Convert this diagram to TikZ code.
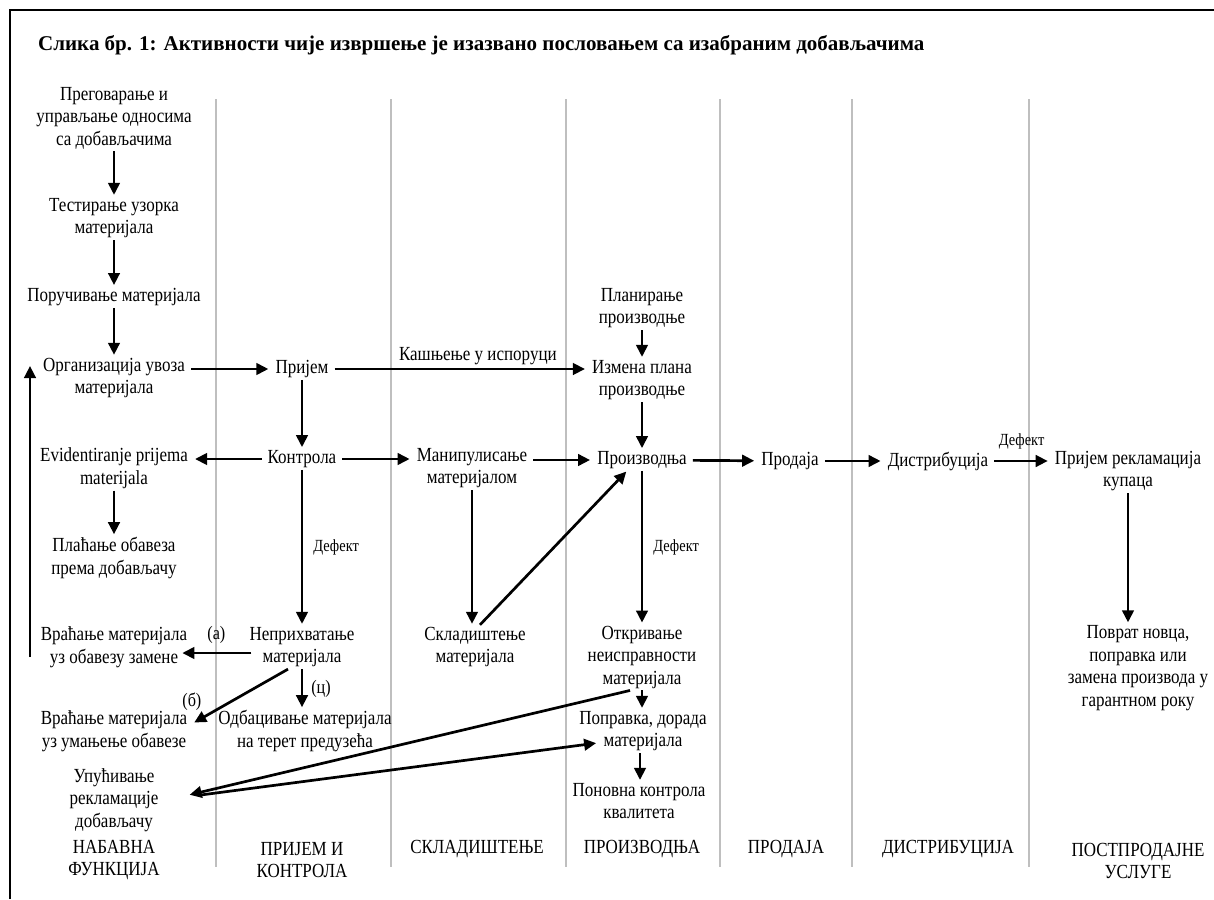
\documentclass[tikz,border=0pt]{standalone}
\usepackage{fontspec}
\setmainfont{Liberation Serif}[FakeStretch=0.85]
\newfontfamily\titlefont{Liberation Serif}
\usetikzlibrary{arrows.meta,calc}

\begin{document}
\begin{tikzpicture}[x=1pt,y=-1pt,>={Triangle[length=12pt,width=11.5pt]},
		every node/.style={font=\fontsize{20}{22.5}\selectfont},
		act/.style={align=center,inner xsep=6pt,inner ysep=2pt},
		lane/.style={draw=black!25,line width=1.6pt},
		flow/.style={->,line width=2.7pt,shorten >=1pt},
		tag/.style={font=\fontsize{17}{19}\selectfont,inner sep=2pt},
		branch/.style={font=\fontsize{19}{21}\selectfont,inner sep=2pt},
		]
		\useasboundingbox (0,0) rectangle (1214,899);
		
		% Frame and lanes
		\draw[line width=1.8pt] (10,899) -- (10,10) -- (1214,10);
		\foreach \x in {216,391,566,720,852,1029}
		\draw[lane] (\x,99) -- (\x,867);
		
		\node[anchor=west,inner sep=0pt,font=\titlefont\bfseries\fontsize{21}{24}\selectfont] (title) at (38,45)
		{Слика бр. 1: Активности чије извршење је изазвано пословањем са изабраним добављачима};
		
		% Nabavna funkcija
		\node[act] (pre) at (114,118) {Преговарање и\\управљање односима\\са добављачима};
		\node[act] (test) at (114,218) {Тестирање узорка\\материјала};
		\node[act] (por) at (114,297) {Поручивање материјала};
		\node[act] (org) at (114,378) {Организација увоза\\материјала};
		\node[act] (evid) at (114,468) {Evidentiranje prijema\\materijala};
		\node[act] (plac) at (114,558) {Плаћање обавеза\\према добављачу};
		\node[act] (vr1) at (114,647) {Враћање материјала\\уз обавезу замене};
		\node[act] (vr2) at (114,731) {Враћање материјала\\уз умањење обавезе};
		\node[act] (upu) at (114,800) {Упућивање\\рекламације\\добављачу};
		
		% Prijem i kontrola
		\node[act] (pri) at (302,369) {Пријем};
		\node[act] (kon) at (302,459) {Контрола};
		\node[act] (nep) at (302,647) {Неприхватање\\материјала};
		\node[act] (odb) at (305,731) {Одбацивање материјала\\на терет предузећа};
		
		% Skladistenje
		\node[act] (man) at (472,468) {Манипулисање\\материјалом};
		\node[act] (skl) at (475,647) {Складиштење\\материјала};
		
		% Proizvodnja
		\node[act] (plan) at (642,308) {Планирање\\производње};
		\node[act] (izm) at (642,380) {Измена плана\\производње};
		\node[act] (pro) at (642,460) {Производња};
		\node[act] (otk) at (642,657) {Откривање\\неисправности\\материјала};
		\node[act] (pop) at (643,731) {Поправка, дорада\\материјала};
		\node[act] (pon) at (639,801) {Поновна контрола\\квалитета};
		
		% Prodaja, distribucija, postprodajne usluge
		\node[act] (prod) at (790,461) {Продаја};
		\node[act] (dis) at (938,461) {Дистрибуција};
		\node[act] (rek) at (1128,471) {Пријем рекламација\\купаца};
		\node[act] (pov) at (1138,668) {Поврат новца,\\поправка или\\замена производа у\\гарантном року};
		
		% Lane titles
		\node[act] (l1) at (114,860) {НАБАВНА\\ФУНКЦИЈА};
		\node[act] (l2) at (302,860) {ПРИЈЕМ И\\КОНТРОЛА};
		\node[act] (l3) at (477,849) {СКЛАДИШТЕЊЕ};
		\node[act] (l4) at (642,849) {ПРОИЗВОДЊА};
		\node[act] (l5) at (786,849) {ПРОДАЈА};
		\node[act] (l6) at (948,849) {ДИСТРИБУЦИЈА};
		\node[act] (l7) at (1138,861) {ПОСТПРОДАЈНЕ\\УСЛУГЕ};
		
		% Return
		\coordinate (retA) at (30,657);
		\coordinate (retB) at (30,365);
		\draw[flow] (retA) -- (retB);
		
		% Arrows
		\draw[flow] (pre) -- (test);
		\draw[flow] (test) -- (por);
		\draw[flow] (por) -- (org);
		\draw[flow] (org.east |- pri) -- (pri);
		\draw[flow] (pri) -- node[above,pos=0.57]{Кашњење у испоруци} (pri -| izm.west);
		\draw[flow] (pri) -- (kon);
		\draw[flow] (kon) -- (kon -| evid.east);
		\draw[flow] (kon) -- (kon -| man.west);
		\draw[flow] (kon) -- node[right=8pt,tag]{Дефект} (nep);
		\draw[flow] (evid) -- (plac);
		\draw[flow] ([xshift=8pt,yshift=-6pt]nep.west) -- node[above=6pt,branch]{(а)} ([xshift=-12pt,yshift=-6pt]nep.west -| vr1.east);
		\draw[flow] ([xshift=-14pt]nep.south) -- node[pos=0.88,above left,yshift=3pt,branch]{(б)} ([yshift=8pt]vr2.east);
		\draw[flow] (nep.south) -- node[right=6pt,branch]{(ц)} (nep.south |- odb.north);
		\draw[flow] (man.south) -- (man.south |- skl.north);
		\draw[flow] (man.east |- pro) -- (pro);
		\draw[flow] ([xshift=5pt]skl.north) -- ([xshift=-15pt]pro.south);
		\draw[flow] (plan) -- (izm);
		\draw[flow] (izm) -- (pro);
		\draw[flow] (pro) -- (prod);
		\draw[flow] (prod) -- (dis);
		\draw[flow] (dis) -- node[above=9pt,tag]{Дефект} (dis -| rek.west);
		\draw[flow] (rek.south) -- (rek.south |- pov.north);
		\draw[flow] (pro) -- node[right=8pt,tag]{Дефект} (otk);
		\draw[flow] (otk.south) -- (otk.south |- pop.north);
		\draw[flow] ([xshift=-3pt]pop.south) -- ([xshift=-3pt]pop.south |- pon.north);
		\draw[flow] ([xshift=-12pt]otk.south) -- ([xshift=24pt,yshift=5pt]upu.east);
		\draw[flow] ([xshift=36pt,yshift=5pt]upu.east) -- ([xshift=24pt,yshift=-12pt]pop.west);
		
	\end{tikzpicture}
\end{document}
